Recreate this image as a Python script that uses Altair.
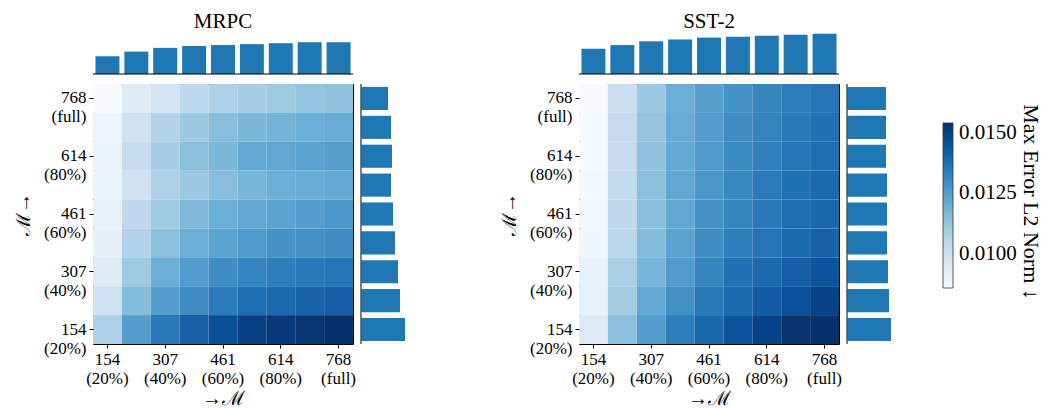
import altair as alt
import pandas as pd

ranks = [154, 230, 307, 384, 461, 538, 614, 691, 768]
tick_ranks = [154, 307, 461, 614, 768]

# Heatmap values: rows from 768 (top) down to 154 (bottom), columns 154 -> 768
mrpc_rows = [
    [0.00860, 0.00945, 0.00989, 0.01050, 0.01078, 0.01098, 0.01112, 0.01132, 0.01139],
    [0.00894, 0.00996, 0.01071, 0.01118, 0.01152, 0.01173, 0.01186, 0.01200, 0.01207],
    [0.00901, 0.01030, 0.01098, 0.01146, 0.01173, 0.01214, 0.01220, 0.01234, 0.01241],
    [0.00901, 0.00996, 0.01078, 0.01118, 0.01152, 0.01180, 0.01200, 0.01207, 0.01214],
    [0.00914, 0.01044, 0.01112, 0.01166, 0.01200, 0.01220, 0.01234, 0.01248, 0.01268],
    [0.00921, 0.01071, 0.01146, 0.01200, 0.01234, 0.01261, 0.01282, 0.01288, 0.01295],
    [0.00945, 0.01112, 0.01200, 0.01254, 0.01295, 0.01322, 0.01336, 0.01350, 0.01363],
    [0.01003, 0.01159, 0.01248, 0.01295, 0.01343, 0.01377, 0.01390, 0.01404, 0.01418],
    [0.01078, 0.01248, 0.01350, 0.01411, 0.01462, 0.01499, 0.01513, 0.01526, 0.01540],
]
sst2_rows = [
    [0.00860, 0.01010, 0.01118, 0.01200, 0.01241, 0.01282, 0.01316, 0.01336, 0.01363],
    [0.00867, 0.01030, 0.01132, 0.01207, 0.01248, 0.01295, 0.01322, 0.01350, 0.01370],
    [0.00867, 0.01030, 0.01139, 0.01214, 0.01261, 0.01302, 0.01329, 0.01363, 0.01377],
    [0.00874, 0.01037, 0.01146, 0.01220, 0.01268, 0.01309, 0.01343, 0.01370, 0.01390],
    [0.00880, 0.01044, 0.01152, 0.01220, 0.01282, 0.01316, 0.01350, 0.01377, 0.01397],
    [0.00887, 0.01057, 0.01159, 0.01234, 0.01295, 0.01336, 0.01363, 0.01390, 0.01411],
    [0.00908, 0.01091, 0.01180, 0.01254, 0.01322, 0.01370, 0.01390, 0.01418, 0.01445],
    [0.00914, 0.01105, 0.01214, 0.01288, 0.01350, 0.01390, 0.01424, 0.01458, 0.01492],
    [0.00948, 0.01146, 0.01248, 0.01336, 0.01397, 0.01445, 0.01492, 0.01533, 0.01540],
]

# Marginal bars (arbitrary units)
mrpc_top = [19, 24, 28, 30, 31, 32, 33, 34, 34]
sst2_top = [27, 31, 35, 37, 39, 40, 41, 42, 43]
# right bars listed from 768 (top) down to 154 (bottom)
mrpc_right = [27, 30, 31, 30, 32, 34, 37, 39, 44]
sst2_right = [39, 39, 39, 40, 40, 40, 41, 42, 44]

legend_title = "Max Error L2 Norm   ↓"
legend_ticks = [0.01, 0.0125, 0.015]

BAR = "#1f77b4"
FONT = "Liberation Serif"
blues = ["#f7fbff", "#deebf7", "#c6dbef", "#9ecae1", "#6baed6",
         "#4292c6", "#2171b5", "#08519c", "#08306b"]
cmin, cmax = 0.0086, 0.0154
stops = [cmin + i * (cmax - cmin) / 8 for i in range(9)]
color_scale = alt.Scale(domain=stops, range=blues, interpolate="rgb")

LABEL_EXPR = ("[datum.label, datum.value == 154 ? '(20%)' : datum.value == 307 ? '(40%)' : "
              "datum.value == 461 ? '(60%)' : datum.value == 614 ? '(80%)' : '(full)']")

HW = 260
TH = 42
RW = 45


def panel(name, rows, top_vals, right_vals, with_title_text=False):
    heat_df = pd.DataFrame([
        {"cx": ranks[j], "cy": ranks[8 - i], "v": rows[i][j]}
        for i in range(9) for j in range(9)
    ])
    top_df = pd.DataFrame({"cx": ranks, "v": top_vals})
    right_df = pd.DataFrame({"cy": ranks[::-1], "v": right_vals})

    top_bars = alt.Chart(top_df).mark_bar(color=BAR).encode(
        x=alt.X("cx:O", axis=None, scale=alt.Scale(paddingInner=0.17, paddingOuter=0.085)),
        y=alt.Y("v:Q", axis=None, scale=alt.Scale(domain=[0, 45])),
    )
    top_line = alt.Chart(top_df.head(1)).mark_rule(color="black", strokeWidth=1.2).encode(
        x=alt.value(0), x2=alt.value(HW), y=alt.value(TH)
    )
    top = alt.layer(top_bars, top_line).properties(
        width=HW, height=TH,
        title=alt.TitleParams(name, font=FONT, fontSize=21, fontWeight="normal",
                              color="black", anchor="middle", offset=0),
    )

    blank = alt.Chart(top_df.head(1)).mark_point(opacity=0, size=1).encode(
        x=alt.value(20), y=alt.value(20)
    ).properties(width=RW, height=TH)

    heat = alt.Chart(heat_df).mark_rect(strokeWidth=0).encode(
        x=alt.X("cx:O", scale=alt.Scale(paddingInner=0, paddingOuter=0),
                axis=alt.Axis(values=tick_ranks, labelExpr=LABEL_EXPR, labelAngle=0,
                              title="→ℳ", titlePadding=2)),
        y=alt.Y("cy:O", sort="descending", scale=alt.Scale(paddingInner=0, paddingOuter=0),
                axis=alt.Axis(values=tick_ranks, labelExpr=LABEL_EXPR,
                              title="ℳ→", titlePadding=10)),
        color=alt.Color("v:Q", scale=color_scale, legend=alt.Legend(
            type="gradient", title=None, orient="none", legendX=850, legendY=91,
            direction="vertical", gradientLength=165, gradientThickness=10,
            gradientStrokeColor="#333", gradientStrokeWidth=0.8,
            values=legend_ticks, format=".4f",
            labelFont=FONT, labelFontSize=21, labelColor="black", labelOffset=6,
        )),
    ).properties(width=HW, height=HW,
                 view=alt.ViewBackground(stroke="black", strokeWidth=1))

    right_bars = alt.Chart(right_df).mark_bar(color=BAR).encode(
        y=alt.Y("cy:O", sort="descending", axis=None,
                scale=alt.Scale(paddingInner=0.2, paddingOuter=0.1)),
        x=alt.X("v:Q", axis=None, scale=alt.Scale(domain=[0, RW])),
    )
    right_line = alt.Chart(right_df.head(1)).mark_rule(color="#555", strokeWidth=1.5).encode(
        x=alt.value(0), y=alt.value(0), y2=alt.value(HW)
    )
    layers = [right_bars, right_line]
    if with_title_text:
        layers.append(
            alt.Chart(right_df.head(1)).mark_text(
                angle=90, align="center", baseline="middle", font=FONT,
                fontSize=22, color="black",
            ).encode(x=alt.value(184), y=alt.value(118), text=alt.value(legend_title))
        )
    right = alt.layer(*layers).properties(width=RW, height=HW)

    return alt.concat(top, blank, heat, right, columns=2,
                      spacing=alt.RowColnumber(row=8, column=3), align="each")


chart = alt.hconcat(
    panel("MRPC", mrpc_rows, mrpc_top, mrpc_right),
    panel("SST-2", sst2_rows, sst2_top, sst2_right, with_title_text=True),
    spacing=93,
).properties(
    padding={"left": 5, "top": 3, "right": 3, "bottom": 0}
).configure_view(stroke=None).configure_axis(
    labelFont=FONT, labelFontSize=17, labelColor="black", labelLineHeight=19,
    labelPadding=3, tickColor="black", tickSize=4, domain=False, grid=False,
    titleFont=FONT, titleFontSize=20, titleFontWeight="normal", titleColor="black",
)

chart.save("out.html", embed_options={"renderer": "svg", "actions": False})
